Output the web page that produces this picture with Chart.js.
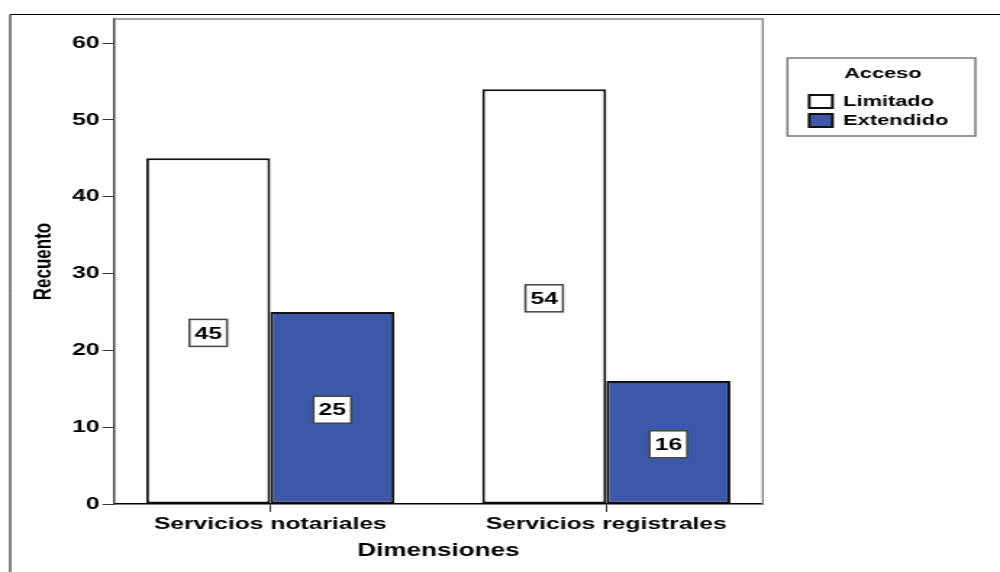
<!DOCTYPE html>
<html><head><meta charset="utf-8">
<script src="https://cdn.jsdelivr.net/npm/chart.js@4.4.0/dist/chart.umd.min.js"></script>
<style>
html,body{margin:0;padding:0;background:#fff;overflow:hidden;width:1000px;height:572px}
#wrap{position:absolute;left:0;top:0;width:690px;height:572px;transform:scale(1.449275,1);transform-origin:0 0;}
</style></head><body>
<div id="wrap"><canvas id="c"></canvas></div>
<script>
const categories = ['Servicios notariales', 'Servicios registrales'];
const seriesNames = ['Limitado', 'Extendido'];
const limitado = [45, 54];
const extendido = [25, 16];
const yTicks = [0, 10, 20, 30, 40, 50, 60];
const xTitle = 'Dimensiones';
const yTitle = 'Recuento';
const legendTitle = 'Acceso';

const FONT = "'Liberation Sans', Arial, sans-serif";
const toPoints = arr => arr.map((v, i) => ({x: i, y: v}));

const decor = {
  id: 'decor',
  beforeDraw(chart) {
    const ctx = chart.ctx;
    ctx.save();
    ctx.strokeStyle = '#000';
    ctx.lineWidth = 1;
    ctx.beginPath();
    ctx.moveTo(7, chart.height + 5);
    ctx.lineTo(7, 14.5);
    ctx.lineTo(chart.width + 5, 14.5);
    ctx.stroke();
    ctx.restore();
  },
  afterDatasetsDraw(chart) {
    const ctx = chart.ctx;
    ctx.save();
    ctx.font = "bold 17px " + FONT;
    ctx.textAlign = 'center';
    ctx.textBaseline = 'middle';
    chart.data.datasets.forEach((ds, di) => {
      chart.getDatasetMeta(di).data.forEach((el, i) => {
        const txt = String(ds.data[i].y);
        const cx = el.x;
        const cy = (el.y + el.base) / 2 + 2;
        const w = ctx.measureText(txt).width + 7;
        const h = 27;
        ctx.fillStyle = '#fff';
        ctx.fillRect(cx - w / 2, cy - h / 2, w, h);
        ctx.strokeStyle = '#444';
        ctx.lineWidth = 1.5;
        ctx.strokeRect(cx - w / 2, cy - h / 2, w, h);
        ctx.fillStyle = '#000';
        ctx.fillText(txt, cx, cy + 1);
      });
    });
    ctx.restore();
  },
  afterDraw(chart) {
    const ctx = chart.ctx;
    const a = chart.chartArea;
    ctx.save();
    ctx.strokeStyle = '#8a8a8a';
    ctx.lineWidth = 1.5;
    ctx.beginPath();
    ctx.moveTo(a.left, a.top);
    ctx.lineTo(a.right, a.top);
    ctx.lineTo(a.right, a.bottom);
    ctx.stroke();
    const lg = chart.legend;
    const hb = lg.legendHitBoxes;
    const last = hb[hb.length - 1];
    const x0 = hb[0].left - 15;
    const x1 = lg.right + 9;
    const y0 = lg.top + chart.options.plugins.legend.title.padding.top - 8;
    const y1 = last.top + last.height + 8;
    ctx.strokeStyle = '#777';
    ctx.lineWidth = 1.5;
    ctx.strokeRect(x0, y0, x1 - x0, y1 - y0);
    ctx.restore();
  }
};

new Chart(document.getElementById('c'), {
  type: 'bar',
  data: {
    datasets: [
      {label: seriesNames[0], data: toPoints(limitado), backgroundColor: '#ffffff', borderColor: '#111', borderWidth: 2, borderSkipped: false},
      {label: seriesNames[1], data: toPoints(extendido), backgroundColor: '#3d58a9', borderColor: '#111', borderWidth: 2, borderSkipped: false}
    ]
  },
  options: {
    responsive: true,
    maintainAspectRatio: false,
    animation: false,
    layout: {padding: {left: 6, top: 19, right: 26, bottom: 10}},
    datasets: {bar: {categoryPercentage: 0.739, barPercentage: 1}},
    scales: {
      x: {
        type: 'linear',
        offset: false,
        bounds: 'data',
        min: -0.465,
        max: 1.466,
        afterBuildTicks: s => { s.ticks = categories.map((c, i) => ({value: i})); },
        ticks: {
          callback: (v, i) => categories[i],
          color: '#000',
          font: {family: FONT, size: 17, weight: 'bold'},
          padding: 2,
          maxRotation: 0,
          autoSkip: false
        },
        grid: {display: true, offset: false, drawOnChartArea: false, tickLength: 8, color: '#333', lineWidth: 1},
        border: {display: true, color: '#000', width: 1.5},
        title: {display: true, text: xTitle, color: '#000', font: {family: FONT, size: 18, weight: 'bold'}, padding: {top: 4, bottom: 0}}
      },
      y: {
        type: 'linear',
        min: 0,
        max: 63.13,
        afterBuildTicks: s => { s.ticks = yTicks.map(v => ({value: v})); },
        ticks: {
          color: '#000',
          font: {family: FONT, size: 17, weight: 'bold'},
          padding: 2
        },
        grid: {display: true, drawOnChartArea: false, tickLength: 8, color: '#333', lineWidth: 1},
        border: {display: true, color: '#444', width: 1.5},
        title: {display: true, text: yTitle, color: '#000', font: {family: FONT, size: 17, weight: 'bold'}, padding: {top: 14, bottom: 7.4}}
      },
      spacer: {
        type: 'linear',
        position: 'right',
        display: true,
        ticks: {display: false},
        grid: {display: false},
        border: {display: false},
        afterFit: s => { s.width = 28; }
      }
    },
    plugins: {
      legend: {
        position: 'right',
        align: 'start',
        title: {display: true, text: legendTitle, color: '#000', font: {family: FONT, size: 15, weight: 'bold'}, padding: {top: 47, bottom: 6}},
        labels: {
          color: '#000',
          font: {family: FONT, size: 15, weight: 'bold'},
          boxWidth: 16,
          boxHeight: 13,
          padding: 4
        }
      },
      tooltip: {enabled: false}
    }
  },
  plugins: [decor]
});
</script>
</body></html>
